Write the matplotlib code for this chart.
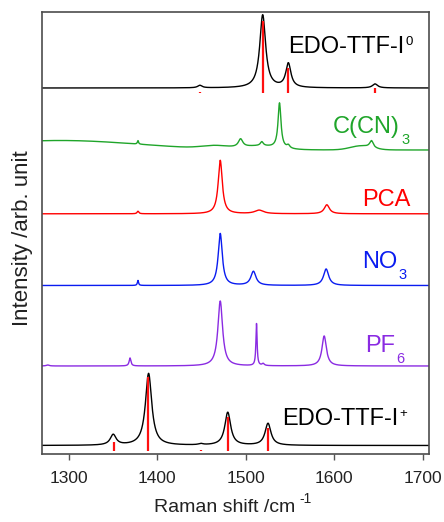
import numpy as np
import matplotlib
matplotlib.use("Agg")
import matplotlib.pyplot as plt

plt.rcParams['font.family'] = ['Liberation Sans', 'DejaVu Sans']

# ---------------- data ----------------
# axis
xticks = [1300, 1400, 1500, 1600, 1700]

# each spectrum: baseline level, peaks (center cm-1, height, HWHM)
i0_base = 366.0
i0_peaks_c = [1519.0, 1548.0, 1646.0, 1448.0]
i0_peaks_h = [73.0, 24.0, 4.0, 2.5]
i0_peaks_w = [4.0, 3.5, 3.5, 3.0]
i0_sticks_c = [1352.0, 1448.0, 1519.0, 1548.0, 1646.0]
i0_sticks_h = [0.8, 1.5, 72.0, 25.0, 5.0]
i0_sticks_base = 360.7

ccn_base = 304.0
ccn_peaks_c = [1538.0, 1494.0, 1518.0, 1642.0, 1378.0, 1548.0]
ccn_peaks_h = [45.0, 8.0, 4.0, 7.0, 3.5, 3.0]
ccn_peaks_w = [2.0, 3.0, 2.0, 2.5, 0.8, 2.0]
# broad background humps (center, height, sigma)
ccn_bg_c = [1290.0, 1465.0, 1515.0, 1630.0]
ccn_bg_h = [9.5, 3.0, 3.5, 4.0]
ccn_bg_s = [90.0, 15.0, 20.0, 12.0]

pca_base = 240.2
pca_peaks_c = [1471.0, 1378.0, 1515.0, 1591.5]
pca_peaks_h = [53.5, 2.5, 3.5, 9.0]
pca_peaks_w = [2.8, 1.2, 6.0, 3.5]

no3_base = 168.5
no3_peaks_c = [1471.0, 1508.5, 1590.7, 1378.0]
no3_peaks_h = [52.0, 14.0, 16.5, 5.0]
no3_peaks_w = [2.8, 3.5, 3.5, 0.8]

pf6_base = 88.0
pf6_peaks_c = [1471.0, 1369.0, 1512.0, 1588.5, 1519.5, 1276.0]
pf6_peaks_h = [65.0, 8.0, 42.0, 30.0, 2.0, 1.0]
pf6_peaks_w = [3.2, 1.2, 0.8, 3.0, 1.5, 2.0]

ip_base = 8.5
ip_peaks_c = [1390.0, 1350.0, 1479.5, 1525.0, 1449.0]
ip_peaks_h = [72.0, 10.5, 33.0, 22.0, 1.2]
ip_peaks_w = [4.3, 4.0, 4.0, 4.0, 3.0]
ip_sticks_c = [1350.5, 1389.7, 1449.0, 1479.5, 1524.8]
ip_sticks_h = [9.0, 74.0, 1.0, 34.0, 23.0]
ip_sticks_base = 3.0

labels = ["EDO-TTF-I", "C(CN)", "PCA", "NO", "PF", "EDO-TTF-I"]
label_sub = ["", "3", "", "3", "6", ""]
label_sup = ["0", "", "", "", "", "+"]
colors = ["#000000", "#1fa52a", "#ff0000", "#0a1cf0", "#8a2be2", "#000000"]

# ---------------- build ----------------
x = np.arange(1269.5, 1707.01, 0.25)


def lorentz_sum(xx, cs, hs, ws):
    y = np.zeros_like(xx)
    for c, h, w in zip(cs, hs, ws):
        y += h * w ** 2 / ((xx - c) ** 2 + w ** 2)
    return y


def gauss_sum(xx, cs, hs, ss):
    y = np.zeros_like(xx)
    for c, h, s in zip(cs, hs, ss):
        y += h * np.exp(-(xx - c) ** 2 / (2 * s ** 2))
    return y


spectra = [
    i0_base + lorentz_sum(x, i0_peaks_c, i0_peaks_h, i0_peaks_w),
    ccn_base + lorentz_sum(x, ccn_peaks_c, ccn_peaks_h, ccn_peaks_w)
    + gauss_sum(x, ccn_bg_c, ccn_bg_h, ccn_bg_s),
    pca_base + lorentz_sum(x, pca_peaks_c, pca_peaks_h, pca_peaks_w),
    no3_base + lorentz_sum(x, no3_peaks_c, no3_peaks_h, no3_peaks_w),
    pf6_base + lorentz_sum(x, pf6_peaks_c, pf6_peaks_h, pf6_peaks_w),
    ip_base + lorentz_sum(x, ip_peaks_c, ip_peaks_h, ip_peaks_w),
]

W, H = 444, 522
fig = plt.figure(figsize=(W / 100, H / 100), dpi=100)
ax = fig.add_axes([42 / W, (H - 454) / H, (429 - 42) / W, (454 - 12) / H])

for y, col in zip(spectra, colors):
    ax.plot(x, y, color=col, lw=1.0, zorder=2)

ax.vlines(i0_sticks_c, i0_sticks_base, np.array(i0_sticks_h) + i0_sticks_base,
          color="#ff1010", lw=1.6, zorder=3)
ax.vlines(ip_sticks_c, ip_sticks_base, np.array(ip_sticks_h) + ip_sticks_base,
          color="#ff1010", lw=1.6, zorder=3)

ax.set_xlim(1269.5, 1707)
ax.set_ylim(0, 442)
ax.set_xticks(xticks)
ax.set_xticklabels([str(t) for t in xticks])
ax.set_yticks([])
ax.tick_params(axis='x', direction='out', length=4.5, width=1.0,
               color='#555555', labelsize=12.5, pad=8, labelcolor='#222222')
for s in ax.spines.values():
    s.set_color('#4d4d4d')
    s.set_linewidth(1.2)

# label positions (left x in cm-1, baseline y)
lab_x = [1547.7, 1598.6, 1631.0, 1631.0, 1634.8, 1541.5]
lab_y = [400.7, 321.3, 248.0, 185.7, 102.3, 29.0]
for i, (txt, col) in enumerate(zip(labels, colors)):
    t = ax.text(lab_x[i], lab_y[i], txt, color=col, fontsize=17,
                ha='left', va='baseline', zorder=5)
    if label_sub[i]:
        ax.annotate(label_sub[i], xy=(1.0, lab_y[i] - 11.0),
                    xycoords=(t, 'data'), xytext=(1, 0),
                    textcoords='offset points', color=col, fontsize=10.5,
                    ha='left', va='baseline')
    if label_sup[i]:
        ax.annotate(label_sup[i], xy=(1.0, lab_y[i] + 8.5),
                    xycoords=(t, 'data'), xytext=(0.5, 0),
                    textcoords='offset points', color=col, fontsize=9.5,
                    ha='left', va='baseline')

# axis labels
fig.text(154 / W, 1 - 511.7 / H, "Raman shift /cm", fontsize=14,
         ha='left', va='baseline', color='#222222')
fig.text(299.5 / W, 1 - 503 / H, "-1", fontsize=10, ha='left', va='baseline',
         color='#222222')
fig.text(28.3 / W, 1 - 238 / H, "Intensity /arb. unit", fontsize=16,
         rotation=90, ha='center', va='baseline', rotation_mode='anchor',
         color='#222222')

fig.savefig("out.png", dpi=100)
